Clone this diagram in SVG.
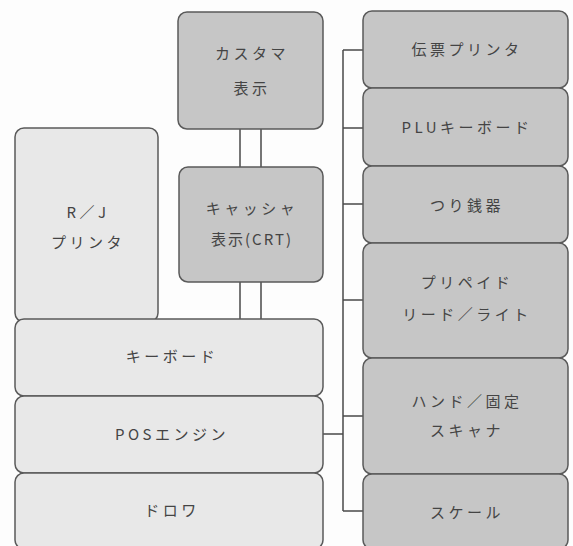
<svg xmlns="http://www.w3.org/2000/svg" width="573" height="546" viewBox="0 0 573 546">
<style>
.lt{fill:#e8e8e8;stroke:#5a5a5a;stroke-width:1.5}
.dk{fill:#c6c6c6;stroke:#5a5a5a;stroke-width:1.5}
.t{font-family:"Noto Sans CJK JP","Noto Sans",sans-serif;font-size:15px;fill:#444;text-anchor:middle;letter-spacing:3.5px}
.c{fill:none;stroke:#4a4a4a;stroke-width:1.5}
</style>
<rect width="573" height="546" fill="#fdfdfd"/>
<g id="connectors">
<path class="c" d="M240 129V167M261 129V167M240 282V319M261 282V319"/>
<path class="c" d="M323 434H343M343 50V511M343 50H363M343 128H363M343 204H363M343 300H363M343 416H363M343 511H363"/>
</g>
<g id="customer-display">
<rect class="dk" x="178" y="12" width="145" height="117" rx="9"/>
<text class="t" x="252" y="59">カスタマ</text>
<text class="t" x="252" y="94">表示</text>
</g>
<g id="cashier-display">
<rect class="dk" x="179" y="167" width="144" height="115" rx="9"/>
<text class="t" x="252" y="214">キャッシャ</text>
<text class="t" x="252" y="245" style="letter-spacing:2px">表示(CRT)</text>
</g>
<g id="rj-printer">
<rect class="lt" x="15" y="128" width="143" height="194" rx="9"/>
<text class="t" x="88" y="218">R／J</text>
<text class="t" x="88" y="248">プリンタ</text>
</g>
<g id="keyboard">
<rect class="lt" x="15" y="319" width="308" height="77" rx="9"/>
<text class="t" x="172" y="362">キーボード</text>
</g>
<g id="pos-engine">
<rect class="lt" x="15" y="396" width="308" height="77" rx="9"/>
<text class="t" x="172" y="440">POSエンジン</text>
</g>
<g id="drawer">
<rect class="lt" x="15" y="473" width="308" height="76" rx="9"/>
<text class="t" x="172" y="516">ドロワ</text>
</g>
<g id="slip-printer">
<rect class="dk" x="363" y="11" width="205" height="77" rx="9"/>
<text class="t" x="467" y="55">伝票プリンタ</text>
</g>
<g id="plu-keyboard">
<rect class="dk" x="363" y="88" width="205" height="78" rx="9"/>
<text class="t" x="467" y="133">PLUキーボード</text>
</g>
<g id="change-dispenser">
<rect class="dk" x="363" y="166" width="205" height="77" rx="9"/>
<text class="t" x="467" y="211">つり銭器</text>
</g>
<g id="prepaid">
<rect class="dk" x="363" y="243" width="205" height="115" rx="9"/>
<text class="t" x="467" y="288">プリペイド</text>
<text class="t" x="467" y="320">リード／ライト</text>
</g>
<g id="scanner">
<rect class="dk" x="363" y="358" width="205" height="116" rx="9"/>
<text class="t" x="467" y="407">ハンド／固定</text>
<text class="t" x="467" y="436">スキャナ</text>
</g>
<g id="scale">
<rect class="dk" x="363" y="474" width="205" height="75" rx="9"/>
<text class="t" x="467" y="518">スケール</text>
</g>
</svg>
